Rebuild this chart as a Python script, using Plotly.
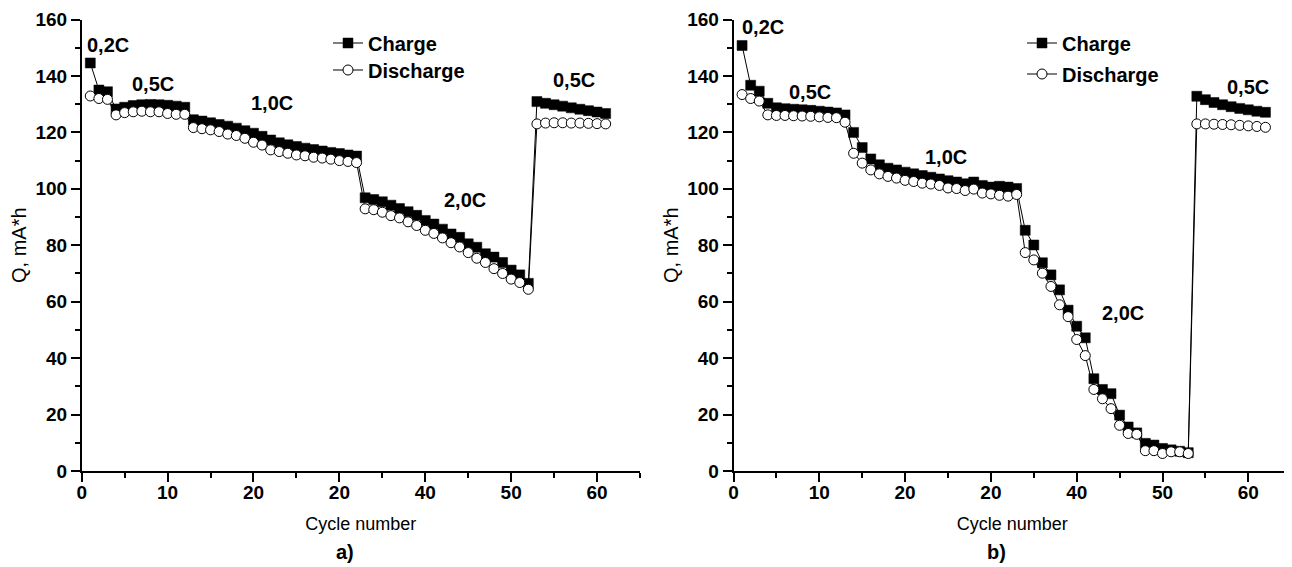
import plotly.graph_objects as go

# ---------------- data ----------------
cycles_a = list(range(1, 62))
charge_a = [144.6, 135.0, 134.4,
            128.3, 128.9, 129.5, 129.8, 129.9, 129.8, 129.6, 129.3, 128.9,
            124.5, 124.0, 123.4, 122.8, 122.2, 121.5, 120.6, 119.7, 118.6, 117.3,
            116.3, 115.6, 115.0, 114.4, 113.9, 113.4, 112.9, 112.5, 112.0, 111.6,
            96.8, 96.2, 95.4, 94.2, 93.0, 91.9, 90.6, 88.8, 87.5, 85.7,
            84.0, 82.8, 80.5, 79.3, 77.0, 75.8, 73.9, 71.2, 69.5, 66.5,
            130.9, 130.3, 129.8, 129.3, 128.7, 128.2, 127.7, 127.2, 126.7]
discharge_a = [132.9, 132.0, 131.7,
               126.2, 127.0, 127.3, 127.5, 127.3, 127.3, 126.7, 126.4, 126.4,
               121.7, 121.3, 120.9, 120.3, 119.4, 118.9, 117.9, 116.5, 115.5, 113.8,
               113.2, 112.6, 112.0, 111.7, 111.2, 110.9, 110.5, 110.0, 109.7, 109.3,
               92.9, 92.6, 91.7, 90.5, 89.7, 88.3, 87.0, 85.3, 84.2, 82.6,
               80.9, 79.4, 77.4, 75.4, 73.9, 71.7, 70.0, 68.0, 66.8, 64.4,
               123.0, 123.3, 123.4, 123.4, 123.3, 123.3, 123.2, 123.1, 123.0]

cycles_b = list(range(1, 63))
charge_b = [150.8, 136.7, 134.6,
            130.3, 128.7, 128.4, 128.2, 128.0, 127.8, 127.5, 127.2, 126.9, 126.2,
            120.0, 114.6, 110.6, 108.5, 107.3, 106.7, 105.9, 105.3, 104.7, 104.1,
            103.5, 102.9, 102.4, 101.8, 102.4, 101.2, 100.6, 100.9, 100.6, 100.1,
            85.3, 80.1, 73.8, 69.5, 64.2, 57.0, 51.3, 47.2, 32.7, 28.9,
            27.4, 19.8, 15.6, 13.5, 9.8, 9.2, 8.0, 7.5, 7.0, 6.5,
            132.8, 131.6, 130.6, 129.8, 129.1, 128.5, 128.0, 127.5, 127.1]
discharge_b = [133.4, 132.0, 131.1,
               126.2, 126.0, 126.0, 125.9, 125.8, 125.7, 125.5, 125.3, 125.2, 123.6,
               112.6, 109.1, 106.7, 105.3, 104.4, 103.8, 103.0, 102.6, 102.0, 101.7,
               101.2, 100.3, 100.1, 99.4, 99.9, 98.5, 98.2, 97.7, 97.4, 98.0,
               77.4, 74.8, 70.1, 65.4, 58.9, 54.7, 46.6, 40.9, 28.9, 25.6,
               22.1, 16.2, 13.3, 13.0, 7.2, 7.2, 6.2, 6.8, 6.8, 6.2,
               123.0, 123.0, 122.9, 122.8, 122.7, 122.5, 122.3, 122.1, 121.8]

x_tickvals = [0, 10, 20, 30, 40, 50, 60]
x_ticktext = ["0", "10", "20", "20", "40", "50", "60"]

rate_labels_a = ["0,2C", "0,5C", "1,0C", "2,0C", "0,5C"]
rate_x_a = [3.1, 8.3, 22.1, 44.6, 57.3]
rate_y_a = [151, 137.3, 130.3, 95.9, 138.5]
rate_labels_b = ["0,2C", "0,5C", "1,0C", "2,0C", "0,5C"]
rate_x_b = [3.4, 8.9, 24.8, 45.4, 60.0]
rate_y_b = [157.3, 134.4, 111.1, 56.0, 136.2]

FONT = "Liberation Sans, Arial, sans-serif"
OFF = 8                      # page body margin of the browser
W, H = 1292 - OFF, 567 - OFF

def px(xr):   # screen x -> paper fraction
    return (xr - OFF) / W

def py(yr):   # screen y -> paper fraction
    return 1 - (yr - OFF) / H

fig = go.Figure()

def add_pair(xs, ch, dis, xa, ya, lg_c, lg_d):
    fig.add_trace(go.Scatter(
        x=xs, y=ch, mode="lines+markers", name="Charge",
        xaxis=xa, yaxis=ya, legend=lg_c,
        line=dict(color="black", width=1),
        marker=dict(symbol="square", size=10, color="black",
                    line=dict(color="black", width=0.5))))
    fig.add_trace(go.Scatter(
        x=xs, y=dis, mode="lines+markers", name="Discharge",
        xaxis=xa, yaxis=ya, legend=lg_d,
        line=dict(color="black", width=1),
        marker=dict(symbol="circle", size=10, color="white",
                    line=dict(color="black", width=1))))

add_pair(cycles_a, charge_a, discharge_a, "x", "y", "legend", "legend2")
add_pair(cycles_b, charge_b, discharge_b, "x2", "y2", "legend3", "legend4")

ydom = [py(471), py(19.5)]
xdom_a = [px(81.7), px(640.0)]
xdom_b = [px(733.5), min(1.0, px(1291.2))]

BOLD = dict(family=FONT, size=20, color="black", weight="bold")
TICKF = dict(family=FONT, size=19, color="black", weight="bold")

def xaxis_cfg(dom, anchor):
    return dict(domain=dom, anchor=anchor, range=[0, 65],
                tickmode="array", tickvals=x_tickvals, ticktext=x_ticktext,
                ticks="outside", ticklen=9, tickwidth=1.5, tickcolor="black",
                ticklabelstandoff=-6, ticklabeloverflow="allow",
                minor=dict(dtick=5, ticks="outside", ticklen=5, tickwidth=1.5,
                           tickcolor="black", showgrid=False),
                showline=True, linewidth=1.5, linecolor="black",
                showgrid=False, zeroline=False, tickfont=TICKF, automargin=False,
                title=dict(text="Cycle number",
                           font=dict(family=FONT, size=18, color="black"),
                           standoff=16))

def yaxis_cfg(anchor):
    return dict(domain=ydom, anchor=anchor, range=[0, 160],
                tickmode="linear", tick0=0, dtick=20,
                ticks="outside", ticklen=9, tickwidth=1.5, tickcolor="black",
                ticklabeloverflow="allow",
                minor=dict(dtick=10, ticks="outside", ticklen=5, tickwidth=1.5,
                           tickcolor="black", showgrid=False),
                showline=True, linewidth=1.5, linecolor="black",
                showgrid=False, zeroline=False, tickfont=TICKF, automargin=False,
                title=dict(text="Q, mA*h",
                           font=dict(family=FONT, size=20, color="black"),
                           standoff=3))

def legend_cfg(xs, ys):
    return dict(x=px(xs), y=py(ys), xanchor="left", yanchor="middle",
                bgcolor="rgba(0,0,0,0)", borderwidth=0, font=BOLD)

annotations = []
for lab, xv, yv in zip(rate_labels_a, rate_x_a, rate_y_a):
    annotations.append(dict(x=xv, y=yv, xref="x", yref="y", text=lab,
                            showarrow=False, font=BOLD))
for lab, xv, yv in zip(rate_labels_b, rate_x_b, rate_y_b):
    annotations.append(dict(x=xv, y=yv, xref="x2", yref="y2", text=lab,
                            showarrow=False, font=BOLD))
annotations.append(dict(x=px(345), y=py(552), xref="paper", yref="paper",
                        xanchor="center", yanchor="middle",
                        text="a)", showarrow=False, font=BOLD))
annotations.append(dict(x=px(997), y=py(552), xref="paper", yref="paper",
                        xanchor="center", yanchor="middle",
                        text="b)", showarrow=False, font=BOLD))

fig.update_layout(
    width=W, height=H,
    margin=dict(l=0, r=0, t=0, b=0, autoexpand=False),
    paper_bgcolor="white", plot_bgcolor="white",
    font=dict(family=FONT, color="black"),
    xaxis=xaxis_cfg(xdom_a, "y"),
    yaxis=yaxis_cfg("x"),
    xaxis2=xaxis_cfg(xdom_b, "y2"),
    yaxis2=yaxis_cfg("x2"),
    legend=legend_cfg(328, 43),
    legend2=legend_cfg(328, 70),
    legend3=legend_cfg(1022, 43),
    legend4=legend_cfg(1022, 74),
    annotations=annotations,
    showlegend=True,
)

fig.write_html("out.html")
